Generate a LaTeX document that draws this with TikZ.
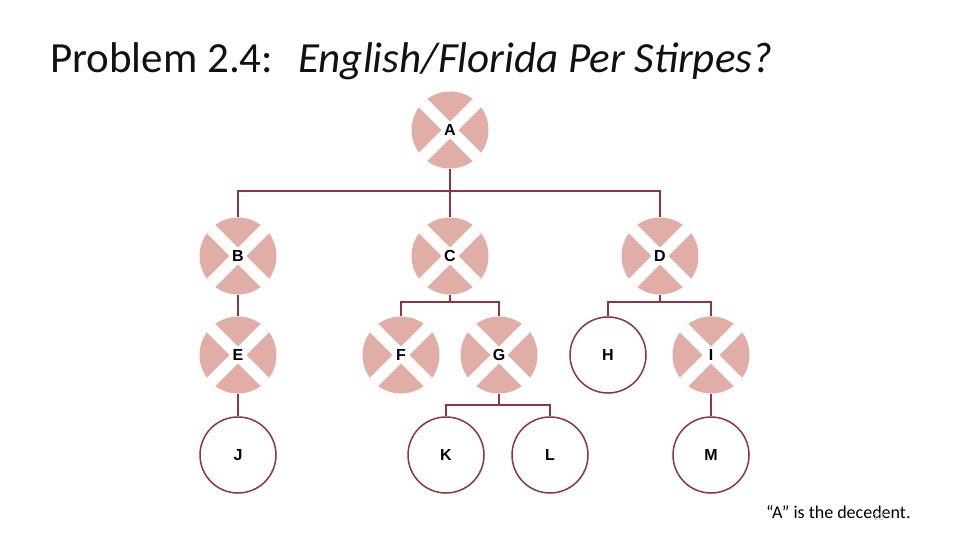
\documentclass[tikz,border=0pt]{standalone}
\usepackage{fontspec}
\setmainfont{Carlito}
\newfontfamily\arialb{Liberation Sans}
\definecolor{pinkc}{HTML}{E0AEA7}
\definecolor{linec}{HTML}{8E3443}
\definecolor{titlec}{HTML}{111111}
\begin{document}
\begin{tikzpicture}[x=1pt,y=-1pt,
  lbl/.style={font=\arialb\bfseries\fontsize{16}{18}\selectfont, text=black},
  crossed/.style={lbl, circle, minimum size=77pt, inner sep=0pt, fill=pinkc,
    path picture={
      \draw[white, line width=12pt] (path picture bounding box.north west) -- (path picture bounding box.south east);
      \draw[white, line width=12pt] (path picture bounding box.north east) -- (path picture bounding box.south west);
    }},
  plain/.style={lbl, circle, minimum size=76pt, inner sep=0pt, draw=linec, line width=1.5pt, fill=white},
  conn/.style={draw=linec, line width=2pt}]
\useasboundingbox (0,0) rectangle (960,540);
% title
\node[anchor=base west, inner sep=0pt, text=titlec, font=\fontsize{43}{48}\selectfont] (title) at (50,73)
  {Problem 2.4:\hspace{0.58em}\textit{English/Florida Per Stirpes?}};
% junction points
\coordinate (j1) at (450,191);
\coordinate (j2) at (450,302);
\coordinate (j3) at (660,302);
\coordinate (j4) at (499,405);
% nodes
\node[crossed] (A) at (450,130) {A};
\node[crossed] (B) at (238,256) {B};
\node[crossed] (C) at (450,256) {C};
\node[crossed] (D) at (660,256) {D};
\node[crossed] (E) at (238,355) {E};
\node[crossed] (F) at (401,355) {F};
\node[crossed] (G) at (499,355) {G};
\node[plain]   (H) at (608,355) {H};
\node[crossed] (I) at (711,355) {I};
\node[plain]   (J) at (238,455) {J};
\node[plain]   (K) at (446,455) {K};
\node[plain]   (L) at (550,455) {L};
\node[plain]   (M) at (711,455) {M};
% connectors
\draw[conn] (A.south) -- (j1);
\draw[conn] (B.north) |- (j1) -| (C.north);
\draw[conn] (j1) -| (D.north);
\draw[conn] (C.south) |- (j2 -| F.north) -- (F.north);
\draw[conn] (j2 -| F.north) -| (G.north);
\draw[conn] (D.south) -- (j3);
\draw[conn] (H.north) |- (j3) -| (I.north);
\draw[conn] (B.south) -- (E.north);
\draw[conn] (E.south) -- (J.north);
\draw[conn] (G.south) -- (j4);
\draw[conn] (K.north) |- (j4) -| (L.north);
\draw[conn] (I.south) -- (M.north);
% footer
\node[anchor=base west, inner sep=0pt, font=\fontsize{18}{20}\selectfont] (note) at (766,518) {“A” is the decedent.};
\node[anchor=base west, inner sep=0pt, text=gray!45, font=\fontsize{12}{14}\selectfont] (pg) at (872,520) {13};
\end{tikzpicture}
\end{document}
